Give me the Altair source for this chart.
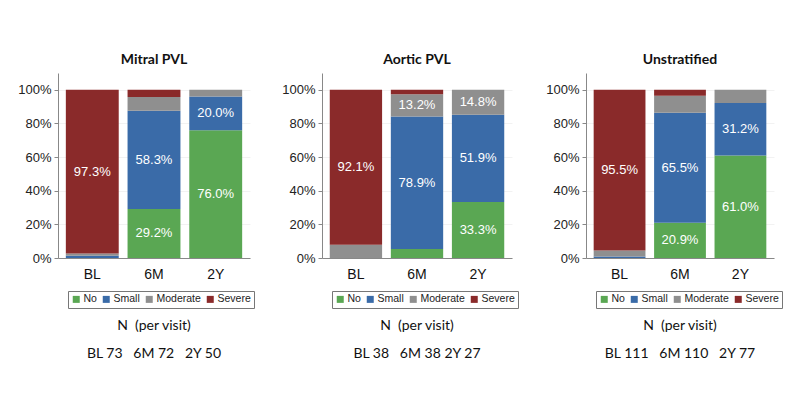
import altair as alt
import pandas as pd

visits = ["BL", "6M", "2Y"]
grades = ["No", "Small", "Moderate", "Severe"]
grade_colors = ["#5aa753", "#3a6ba8", "#8f8f8f", "#8a2a2a"]

panel_titles = ["Mitral PVL", "Aortic PVL", "Unstratified"]

# percentages per visit (BL, 6M, 2Y)
mitral_no = [0.0, 29.2, 76.0]
mitral_small = [1.4, 58.3, 20.0]
mitral_moderate = [1.3, 8.3, 4.0]
mitral_severe = [97.3, 4.2, 0.0]

aortic_no = [0.0, 5.3, 33.3]
aortic_small = [0.0, 78.9, 51.9]
aortic_moderate = [7.9, 13.2, 14.8]
aortic_severe = [92.1, 2.6, 0.0]

unstrat_no = [0.0, 20.9, 61.0]
unstrat_small = [0.9, 65.5, 31.2]
unstrat_moderate = [3.6, 10.0, 7.8]
unstrat_severe = [95.5, 3.6, 0.0]

y_ticks = [0, 0.2, 0.4, 0.6, 0.8, 1.0]

NB = "\u00a0"
n_header = "N" + NB + NB + "(per visit)"
n_lines = [
    "BL 73" + NB * 3 + "6M 72" + NB * 3 + "2Y 50",
    "BL 38" + NB * 3 + "6M 38 2Y 27",
    "BL 111" + NB * 3 + "6M 110" + NB * 3 + "2Y 77",
]

label_min = 13.0

panels_data = [
    [mitral_no, mitral_small, mitral_moderate, mitral_severe],
    [aortic_no, aortic_small, aortic_moderate, aortic_severe],
    [unstrat_no, unstrat_small, unstrat_moderate, unstrat_severe],
]
widths = [192, 190, 188]
legend_x = [10, 10, 10]
H = 185


def make_panel(title, series, width, lx, nline):
    rows = []
    for i, v in enumerate(visits):
        for k, g in enumerate(grades):
            val = series[k][i]
            rows.append({
                "visit": v,
                "grade": g,
                "ord": k,
                "value": val / 100.0,
                "label": f"{val:.1f}%" if val >= label_min else "",
            })
    df = pd.DataFrame(rows)

    base = alt.Chart(df).transform_stack(
        stack="value", as_=["v0", "v1"], groupby=["visit"],
        sort=[alt.SortField("ord", order="ascending")],
    ).transform_calculate(mid="(datum.v0 + datum.v1) / 2")

    xscale = alt.Scale(paddingInner=0.143, paddingOuter=0.127)
    xaxis = alt.Axis(title=None, labelAngle=0, ticks=False, domainColor="#888888",
                     labelFontSize=14, labelColor="#111111", labelPadding=9,
                     labelFont="Liberation Sans")
    yscale = alt.Scale(domain=[0, 1.1], nice=False)
    yaxis = alt.Axis(title=None, values=y_ticks, format=".0%",
                     grid=True, gridColor="#f2f2f2", domainColor="#888888",
                     tickColor="#888888", tickSize=4, labelFontSize=13,
                     labelColor="#222222", labelPadding=3, labelOverlap=False,
                     labelFont="Liberation Sans")

    bars = base.mark_bar().encode(
        x=alt.X("visit:N", sort=visits, scale=xscale, axis=xaxis),
        y=alt.Y("v0:Q", scale=yscale, axis=yaxis),
        y2="v1:Q",
        color=alt.Color(
            "grade:N", sort=grades,
            scale=alt.Scale(domain=grades, range=grade_colors),
            legend=alt.Legend(
                title=None, orient="none", legendX=lx, legendY=H + 33,
                direction="horizontal", strokeColor="#777777", padding=3,
                symbolType="square", symbolSize=49, symbolStrokeWidth=0,
                labelFontSize=10.5, labelFont="Liberation Sans", labelColor="#222222",
                columnPadding=4, labelOffset=2,
            ),
        ),
    )

    texts = base.mark_text(color="white", fontSize=13, font="Liberation Sans").encode(
        x=alt.X("visit:N", sort=visits, scale=xscale, axis=xaxis),
        y=alt.Y("mid:Q", scale=yscale, axis=yaxis),
        text="label:N",
    )

    header = alt.Chart(pd.DataFrame({"t": [n_header]})).mark_text(
        fontSize=14, font="Lato", color="#111111"
    ).encode(x=alt.value(width / 2), y=alt.value(H + 68), text="t:N")

    nl = alt.Chart(pd.DataFrame({"t": [nline]})).mark_text(
        fontSize=14, font="Lato", color="#111111"
    ).encode(x=alt.value(width / 2), y=alt.value(H + 96), text="t:N")

    return alt.layer(bars, texts, header, nl).properties(
        width=width, height=H,
        title=alt.TitleParams(title, fontSize=14, font="Lato", fontWeight="bold",
                              anchor="middle", offset=6, color="#111111"),
    )


charts = [
    make_panel(panel_titles[i], panels_data[i], widths[i], legend_x[i], n_lines[i])
    for i in range(3)
]

chart = alt.hconcat(*charts, spacing=26).resolve_scale(color="independent").resolve_legend(
    color="independent"
).properties(
    padding={"top": 45, "left": 9, "right": 5, "bottom": 5}
).configure_view(stroke=None).configure_axis(domainWidth=1)

chart.save("out.html", embed_options={"renderer": "svg", "actions": False})
